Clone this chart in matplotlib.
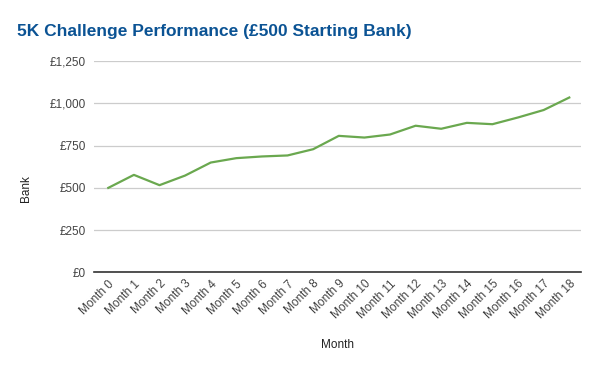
import matplotlib
matplotlib.use("Agg")
import matplotlib.pyplot as plt
from matplotlib.ticker import FuncFormatter

plt.rcParams['font.family'] = ['Liberation Sans', 'DejaVu Sans']

months = [f"Month {i}" for i in range(19)]
bank = [500, 577, 516, 573, 650, 676, 686, 692, 729, 808,
        798, 816, 868, 850, 885, 877, 917, 961, 1035]
yticks = [0, 250, 500, 750, 1000, 1250]

fig = plt.figure(figsize=(6, 3.71), dpi=100)
ax = fig.add_axes([0.157, 0.266, 0.811, 0.569])

x = list(range(len(months)))
ax.plot(x, bank, color='#6aa84f', linewidth=1.6, zorder=3)

ax.set_ylim(0, 1250)
ax.set_xlim(-0.55, 18.45)
ax.set_yticks(yticks)
ax.yaxis.set_major_formatter(FuncFormatter(lambda v, p: f"£{int(v):,}"))
ax.set_xticks(x)
ax.set_xticklabels(months, rotation=45, ha='right', rotation_mode='anchor')

ax.grid(axis='y', color='#cccccc', linewidth=0.9)
ax.set_axisbelow(True)
for s in ['top', 'right', 'left']:
    ax.spines[s].set_visible(False)
ax.spines['bottom'].set_color('#333333')
ax.spines['bottom'].set_linewidth(1.2)
ax.spines['bottom'].set_zorder(4)
ax.tick_params(axis='both', length=0, labelsize=8.5, labelcolor='#444444')
ax.tick_params(axis='y', pad=6)
ax.tick_params(axis='x', pad=4)

fig.text(0.029, 0.914, "5K Challenge Performance (£500 Starting Bank)",
         fontsize=12.5, fontweight='bold', color='#0b5394', va='center', ha='left')
fig.text(0.043, 0.492, "Bank", rotation=90, fontsize=8.5, color='#222222',
         va='center', ha='center')
fig.text(0.5625, 0.07, "Month", fontsize=8.5, color='#222222',
         va='center', ha='center')

fig.savefig("out.png", dpi=100)
